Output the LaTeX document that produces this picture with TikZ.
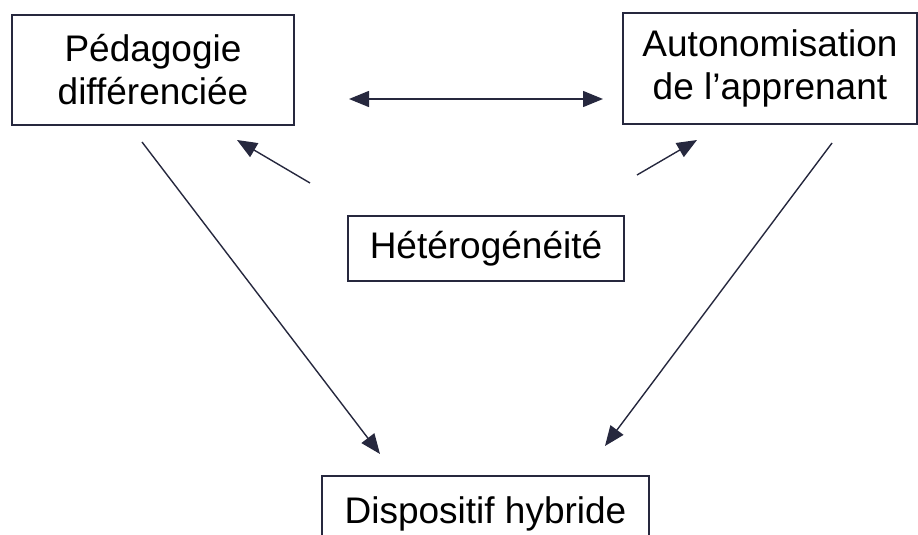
\documentclass[tikz,border=0pt]{standalone}
\usepackage{fontspec}
\setmainfont{Liberation Sans}
\usetikzlibrary{arrows.meta}
\definecolor{trait}{RGB}{38,40,62}
\tikzset{
  boite/.style={draw=trait, line width=0.8pt, align=center, inner sep=0pt,
    font=\fontsize{18.5}{21.5}\selectfont},
  fleche/.style={draw=trait, line width=0.7pt, -{Triangle[length=10pt,width=8pt]}},
}
\begin{document}
\begin{tikzpicture}[x=0.5pt,y=-0.5pt]
                \useasboundingbox (0,0) rectangle (918,535) ;
                \clip (0,0) rectangle (918,535) ;
                % les quatre cadres
                \node [boite, minimum width=141pt, minimum height=55pt] (peda) at (153,70) {P\'edagogie\\diff\'erenci\'ee} ;
                \node [boite, minimum width=147pt, minimum height=55.5pt] (auto) at (770,68.5) {Autonomisation\\de l’apprenant} ;
                \node [boite, minimum width=138pt, minimum height=32.5pt] (hete) at (486,248.5) {H\'et\'erog\'en\'eit\'e} ;
                \node [boite, minimum width=163.5pt, minimum height=38pt] (disp) at (485.5,514) {Dispositif hybride} ;
                % extremites des fleches
                \coordinate (dg) at (349,99) ;
                \coordinate (dd) at (603,99) ;
                \coordinate (hg) at (310,183) ;
                \coordinate (pg) at (237,140) ;
                \coordinate (hd) at (637,175) ;
                \coordinate (pd) at (697,140) ;
                \coordinate (bg) at (142,142) ;
                \coordinate (fg) at (380,454) ;
                \coordinate (bd) at (832,143) ;
                \coordinate (fd) at (605,446) ;
                \draw [fleche, {Triangle[length=10pt,width=8pt]}-{Triangle[length=10pt,width=8pt]}] (dg) -- (dd) ;
                \draw [fleche] (hg) -- (pg) ;
                \draw [fleche] (hd) -- (pd) ;
                \draw [fleche] (bg) -- (fg) ;
                \draw [fleche] (bd) -- (fd) ;
            \end{tikzpicture}
\end{document}
